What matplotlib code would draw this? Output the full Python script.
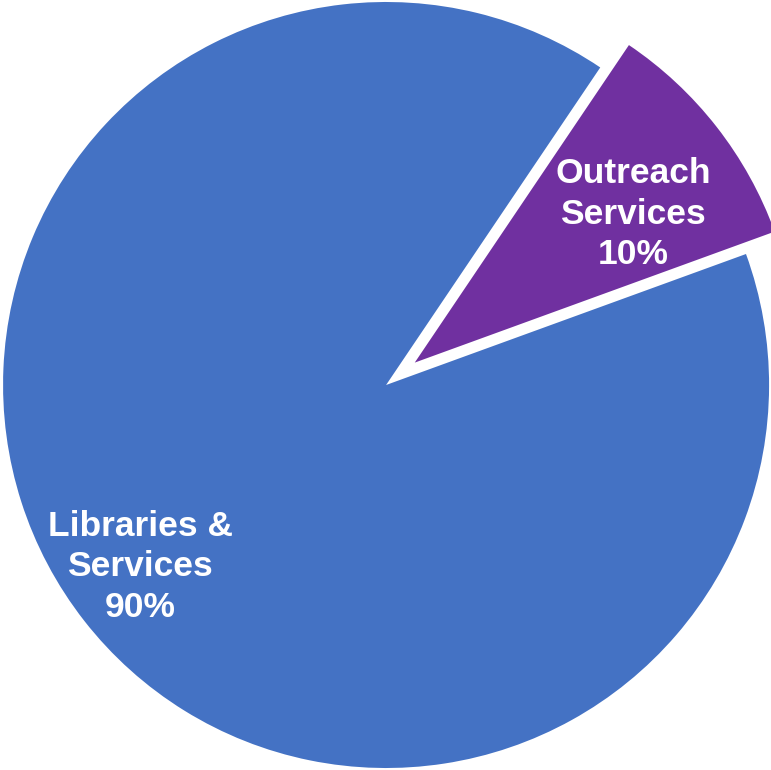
import matplotlib.pyplot as plt
import numpy as np

# budget split
names = ["Outreach\nServices", "Libraries &\nServices"]
shares = [10, 90]
colors = ["#7030A0", "#4472C4"]
explode = [0.095, 0.0]
# label centres (radius, angle in degrees) from the pie centre
label_spots = [(0.784, 34.7), (0.798, 216.5)]

fig = plt.figure(figsize=(7.71, 7.70), dpi=100)
ax = fig.add_axes([0, 0, 1, 1])

labels_by_pct = {s: n for s, n in zip(shares, names)}

def fmt(pct):
    v = int(round(pct))
    return "%s\n%d%%" % (labels_by_pct.get(v, ""), v)

wedges, texts, autotexts = ax.pie(
    shares, colors=colors, explode=explode, startangle=20,
    counterclock=True, autopct=fmt, pctdistance=0.8,
    wedgeprops=dict(linewidth=0),
    textprops=dict(color="white", fontsize=25.5, fontweight="bold",
                   family="Liberation Sans"))
for t, (r, a) in zip(autotexts, label_spots):
    t.set_ha("center")
    t.set_va("center")
    t.set_linespacing(1.3)
    t.set_position((r * np.cos(np.radians(a)), r * np.sin(np.radians(a))))

ax.set_xlim(-1.008, 1.005)
ax.set_ylim(-1.005, 1.005)
ax.set_aspect("equal")
ax.axis("off")

fig.savefig("out.png", dpi=100)
